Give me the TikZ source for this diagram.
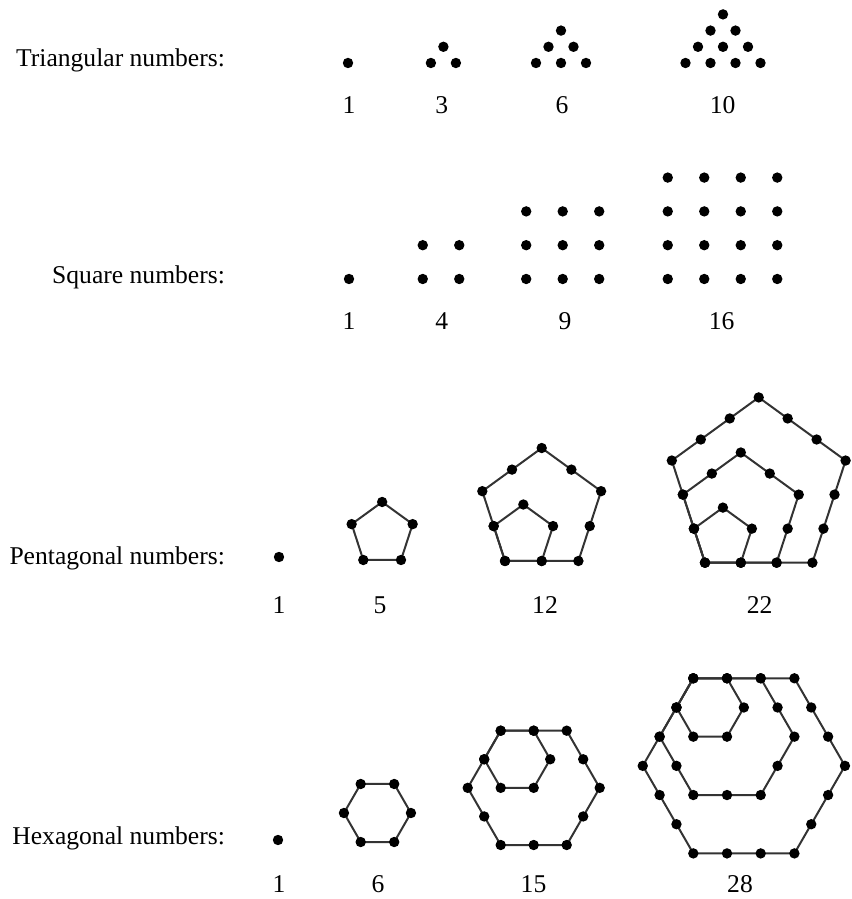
\documentclass[tikz,border=0pt]{standalone}
\usepackage{fontspec}
\setmainfont{Liberation Serif}
\usetikzlibrary{calc}
\tikzset{
	dot/.style={circle,fill=black,inner sep=0pt,minimum size=5.2pt},
	rowname/.style={anchor=east,font=\fontsize{12.8}{15}\selectfont},
	numlabel/.style={font=\fontsize{12.8}{15}\selectfont},
	edge/.style={line width=1pt,black!80},
}
\begin{document}
\begin{tikzpicture}[x=0.5pt,y=0.5pt]
	\useasboundingbox (0,0) rectangle (851,899);
	% names of the rows
	\node[rowname] (triname) at (232,839) {Triangular numbers:};
	\node[rowname] (sqname) at (232,622) {Square numbers:};
	\node[rowname] (pentname) at (232,341) {Pentagonal numbers:};
	\node[rowname] (hexname) at (232,61) {Hexagonal numbers:};
	% triangular numbers
	\foreach \n/\cx in {1/348,2/443.4,3/561,4/723}{
		\foreach \r in {1,...,\n}{
			\foreach \i in {1,...,\r}{
				\node[dot] (tri\n-\r-\i) at ({\cx+(\i-(\r+1)/2)*25}, {836+(\n-\r)*16.2}) {};
			}
		}
	}
	\foreach \n/\x/\t in {1/349/1,2/441.7/3,3/562/6,4/722.7/10}
		\node[numlabel] (trinum\n) at (\x,794) {\t};
	% square numbers
	\foreach \n/\cx in {1/349,2/441,3/562.7,4/722.5}{
		\foreach \r in {1,...,\n}{
			\foreach \c in {1,...,\n}{
				\node[dot] (sq\n-\r-\c) at ({\cx+(\c-(\n+1)/2)*36.5}, {620+(\r-1)*33.8}) {};
			}
		}
	}
	\foreach \n/\x/\t in {1/349/1,2/441.7/4,3/565/9,4/721.7/16}
		\node[numlabel] (sqnum\n) at (\x,578) {\t};
	% pentagonal numbers: nested pentagons on a common bottom left corner
	\node[dot] (pent1) at (279,342) {};
	\foreach \n/\bx/\by/\s in {2/363.3/339/37.7,3/505/338/36.7,4/705/336.3/35.8}{
		\pgfmathtruncatemacro\kmax{\n-1}
		\foreach \k in {1,...,\kmax}{
			\pgfmathsetmacro\L{\k*\s}
			\path (\bx,\by) coordinate (pent\n-\k-0)
				++(0:\L) coordinate (pent\n-\k-1)
				++(72:\L) coordinate (pent\n-\k-2)
				++(144:\L) coordinate (pent\n-\k-3)
				++(216:\L) coordinate (pent\n-\k-4);
			\draw[edge] (pent\n-\k-0) -- (pent\n-\k-1) -- (pent\n-\k-2) -- (pent\n-\k-3) -- (pent\n-\k-4) -- cycle;
			\pgfmathtruncatemacro\km{\k-1}
			\foreach \j in {0,...,4}{
				\pgfmathtruncatemacro\jj{mod(\j+1,5)}
				\foreach \m in {0,...,\km}{
					\pgfmathsetmacro\f{\m/\k}
					\node[dot] (pent\n-\k-\j-\m) at ($(pent\n-\k-\j)!\f!(pent\n-\k-\jj)$) {};
				}
			}
		}
	}
	\foreach \n/\x/\t in {1/279/1,2/380/5,3/545/12,4/759.6/22}
		\node[numlabel] (pentnum\n) at (\x,294) {\t};
	% hexagonal numbers: nested hexagons on a common top left corner
	\node[dot] (hex1) at (278,59) {};
	\foreach \n/\tx/\ty/\s in {2/360.7/115/33.5,3/500.7/168.3/33,4/693.3/220.7/33.7}{
		\pgfmathtruncatemacro\kmax{\n-1}
		\foreach \k in {1,...,\kmax}{
			\pgfmathsetmacro\L{\k*\s}
			\path (\tx,\ty) coordinate (hex\n-\k-0)
				++(0:\L) coordinate (hex\n-\k-1)
				++(-60:\L) coordinate (hex\n-\k-2)
				++(-120:\L) coordinate (hex\n-\k-3)
				++(180:\L) coordinate (hex\n-\k-4)
				++(120:\L) coordinate (hex\n-\k-5);
			\draw[edge] (hex\n-\k-0) -- (hex\n-\k-1) -- (hex\n-\k-2) -- (hex\n-\k-3) -- (hex\n-\k-4) -- (hex\n-\k-5) -- cycle;
			\pgfmathtruncatemacro\km{\k-1}
			\foreach \j in {0,...,5}{
				\pgfmathtruncatemacro\jj{mod(\j+1,6)}
				\foreach \m in {0,...,\km}{
					\pgfmathsetmacro\f{\m/\k}
					\node[dot] (hex\n-\k-\j-\m) at ($(hex\n-\k-\j)!\f!(hex\n-\k-\jj)$) {};
				}
			}
		}
	}
	\foreach \n/\x/\t in {1/279/1,2/378/6,3/533.5/15,4/740/28}
		\node[numlabel] (hexnum\n) at (\x,15) {\t};
\end{tikzpicture}
\end{document}
